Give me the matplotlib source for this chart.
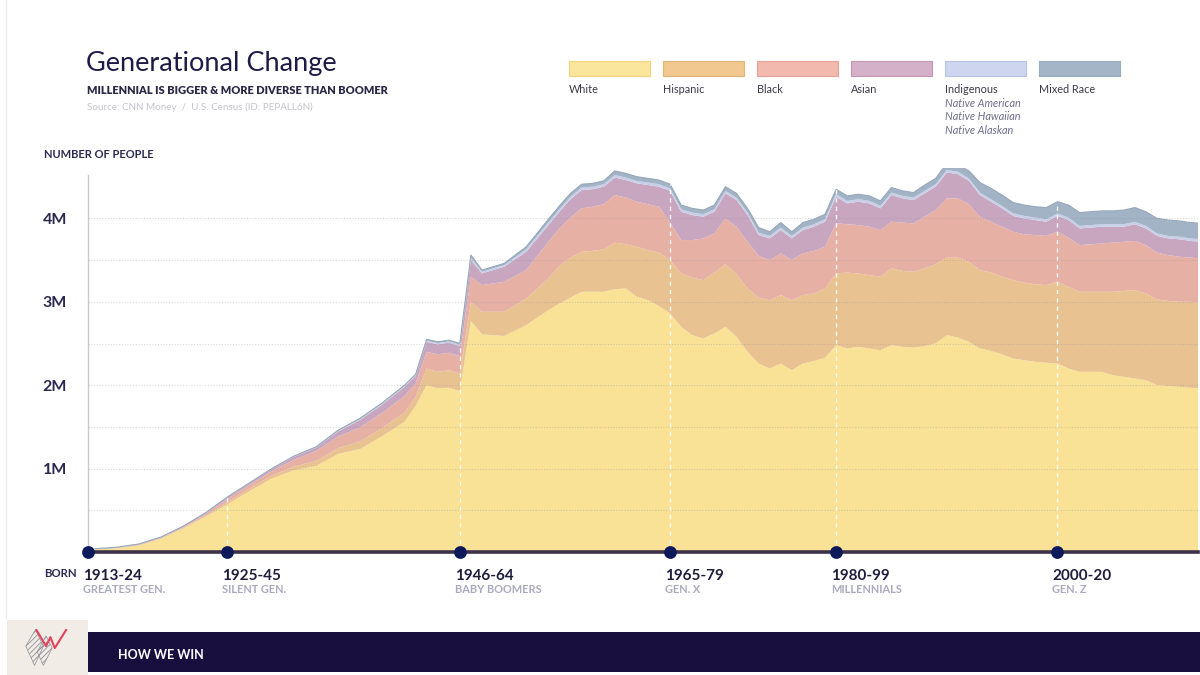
import numpy as np
import matplotlib
matplotlib.use("Agg")
import matplotlib.pyplot as plt
from matplotlib.patches import Rectangle, Polygon
from matplotlib.lines import Line2D

plt.rcParams['font.family'] = ['Lato', 'DejaVu Sans']
plt.rcParams['hatch.linewidth'] = 0.6

# ---------------- data (millions of people, by birth year) ----------------
years = [1913, 1915, 1917, 1919, 1921, 1923, 1925, 1927, 1929, 1931, 1933, 1935,
         1937, 1939, 1941, 1942, 1943, 1944, 1945, 1946, 1947, 1948, 1950, 1952,
         1954, 1955, 1956, 1957, 1958, 1959, 1960, 1961, 1962, 1963, 1964, 1965,
         1966, 1967, 1968, 1969, 1970, 1971, 1972, 1973,
         1974, 1975, 1976, 1977, 1978, 1979, 1980, 1981, 1982, 1983, 1984, 1985,
         1986, 1987, 1988, 1989, 1990, 1991, 1992, 1993,
         1994, 1995, 1996, 1997, 1998, 1999, 2000, 2001, 2002, 2003, 2004, 2005,
         2006, 2007, 2008, 2009, 2010, 2011, 2012, 2013]

white = [0.03, 0.045, 0.08, 0.16, 0.28, 0.42, 0.57, 0.73, 0.88, 0.98, 1.03, 1.175,
         1.235, 1.39, 1.56, 1.75, 2.00, 1.96, 1.97, 1.93, 2.77, 2.61, 2.59, 2.72,
         2.90, 2.98, 3.05, 3.12, 3.12, 3.12, 3.15, 3.16, 3.06, 3.02, 2.95, 2.86,
         2.70, 2.60, 2.56, 2.62, 2.70, 2.58, 2.40, 2.26,
         2.20, 2.26, 2.18, 2.26, 2.29, 2.33, 2.48, 2.44, 2.46, 2.44, 2.42, 2.48,
         2.46, 2.45, 2.47, 2.50, 2.60, 2.57, 2.52, 2.44,
         2.41, 2.37, 2.32, 2.30, 2.28, 2.27, 2.26, 2.20, 2.16, 2.16, 2.16, 2.12,
         2.10, 2.08, 2.06, 2.00, 1.99, 1.98, 1.97, 1.96]

hispanic = [0.002, 0.003, 0.004, 0.005, 0.01, 0.015, 0.025, 0.03, 0.035, 0.045, 0.06, 0.07,
            0.09, 0.10, 0.11, 0.11, 0.20, 0.20, 0.21, 0.21, 0.23, 0.27, 0.29, 0.32,
            0.38, 0.45, 0.48, 0.48, 0.49, 0.51, 0.56, 0.53, 0.60, 0.60, 0.64, 0.64,
            0.64, 0.69, 0.70, 0.73, 0.75, 0.75, 0.76, 0.79,
            0.82, 0.82, 0.84, 0.82, 0.81, 0.83, 0.86, 0.91, 0.88, 0.88, 0.88, 0.92,
            0.91, 0.91, 0.93, 0.95, 0.93, 0.96, 0.96, 0.94,
            0.94, 0.93, 0.94, 0.93, 0.93, 0.93, 0.98, 0.98, 0.96, 0.96, 0.96, 1.00,
            1.03, 1.06, 1.04, 1.03, 1.02, 1.02, 1.03, 1.03]

black = [0.003, 0.004, 0.006, 0.008, 0.012, 0.02, 0.04, 0.045, 0.055, 0.08, 0.12, 0.14,
         0.17, 0.18, 0.20, 0.16, 0.20, 0.21, 0.21, 0.21, 0.30, 0.32, 0.36, 0.34,
         0.44, 0.45, 0.48, 0.52, 0.53, 0.54, 0.57, 0.56, 0.54, 0.55, 0.55, 0.45,
         0.40, 0.45, 0.50, 0.47, 0.55, 0.57, 0.56, 0.50,
         0.48, 0.50, 0.48, 0.50, 0.51, 0.50, 0.60, 0.58, 0.58, 0.58, 0.56, 0.56,
         0.58, 0.58, 0.62, 0.65, 0.71, 0.71, 0.69, 0.64,
         0.61, 0.60, 0.58, 0.58, 0.59, 0.59, 0.60, 0.59, 0.56, 0.57, 0.58, 0.59,
         0.59, 0.59, 0.58, 0.56, 0.55, 0.54, 0.53, 0.53]

asian = [0.002, 0.003, 0.004, 0.005, 0.006, 0.01, 0.02, 0.02, 0.025, 0.035, 0.04, 0.06,
         0.09, 0.10, 0.11, 0.09, 0.12, 0.12, 0.12, 0.12, 0.20, 0.14, 0.18, 0.22,
         0.20, 0.20, 0.22, 0.22, 0.21, 0.21, 0.21, 0.21, 0.22, 0.23, 0.24, 0.38,
         0.34, 0.30, 0.26, 0.26, 0.30, 0.32, 0.32, 0.25,
         0.26, 0.28, 0.26, 0.28, 0.29, 0.30, 0.32, 0.25, 0.28, 0.28, 0.26, 0.32,
         0.29, 0.28, 0.28, 0.28, 0.31, 0.29, 0.28, 0.26,
         0.24, 0.22, 0.19, 0.19, 0.18, 0.17, 0.19, 0.21, 0.20, 0.20, 0.20, 0.19,
         0.18, 0.20, 0.20, 0.20, 0.20, 0.21, 0.20, 0.20]

indigenous = [0.001, 0.001, 0.001, 0.001, 0.001, 0.001, 0.003, 0.003, 0.003, 0.005, 0.005, 0.008,
              0.01, 0.01, 0.01, 0.01, 0.015, 0.015, 0.015, 0.015, 0.03, 0.02, 0.02, 0.03,
              0.03, 0.03, 0.03, 0.03, 0.03, 0.03, 0.03, 0.03, 0.03, 0.03, 0.03, 0.03,
              0.03, 0.03, 0.03, 0.03, 0.03, 0.03, 0.03, 0.03,
              0.03, 0.03, 0.03, 0.03, 0.03, 0.03, 0.03, 0.03, 0.03, 0.03, 0.03, 0.03,
              0.03, 0.03, 0.03, 0.03, 0.03, 0.03, 0.03, 0.03,
              0.03, 0.03, 0.03, 0.03, 0.03, 0.03, 0.03, 0.03, 0.03, 0.03, 0.03, 0.03,
              0.03, 0.03, 0.03, 0.03, 0.03, 0.03, 0.03, 0.03]

mixed = [0.001, 0.001, 0.001, 0.001, 0.001, 0.002, 0.002, 0.002, 0.002, 0.005, 0.005, 0.007,
         0.01, 0.01, 0.01, 0.01, 0.015, 0.015, 0.015, 0.015, 0.03, 0.02, 0.02, 0.03,
         0.04, 0.04, 0.04, 0.04, 0.04, 0.04, 0.05, 0.05, 0.05, 0.05, 0.05, 0.05,
         0.05, 0.05, 0.05, 0.05, 0.05, 0.05, 0.05, 0.06,
         0.05, 0.06, 0.05, 0.06, 0.06, 0.06, 0.06, 0.06, 0.06, 0.06, 0.06, 0.06,
         0.06, 0.06, 0.07, 0.07, 0.08, 0.08, 0.09, 0.12,
         0.13, 0.13, 0.13, 0.13, 0.13, 0.14, 0.14, 0.15, 0.16, 0.16, 0.16, 0.16,
         0.17, 0.17, 0.17, 0.18, 0.19, 0.19, 0.19, 0.19]

groups = ["White", "Hispanic", "Black", "Asian", "Indigenous", "Mixed Race"]
indigenous_sub = ["Native American", "Native Hawaiian", "Native Alaskan"]

gen_start = [1913, 1925, 1946, 1965, 1980, 2000]
gen_years = ["1913-24", "1925-45", "1946-64", "1965-79", "1980-99", "2000-20"]
gen_names = ["GREATEST GEN.", "SILENT GEN.", "BABY BOOMERS", "GEN. X", "MILLENNIALS", "GEN. Z"]

ytick_vals = [0.5, 1.0, 1.5, 2.0, 2.5, 3.0, 3.5, 4.0]
ytick_labels = ["", "1M", "", "2M", "", "3M", "", "4M"]

# ---------------- styling ----------------
area_colors = ['#f9e296', '#e9c291', '#e7b0a5', '#c9a6c0', '#c8d0e9', '#a1b3c5']
swatch_colors = ['#fbe69d', '#f0c890', '#f2b9ae', '#d5b0c9', '#cdd5ef', '#a5b5c8']
swatch_edges = ['#f3d47c', '#e2b47a', '#e6a39a', '#c297b4', '#b9c3e5', '#98aabe']
NAVY = '#1d1b45'
DOT = '#0c1a5c'

W, H = 1200, 675
fig = plt.figure(figsize=(12, 6.75), dpi=100)
fig.patch.set_facecolor('white')

def fx(px):
    return px / W

def fy(py):
    return 1 - py / H

X0, X1 = 1912.4, 2012.7
YMAX = 4.6
PX_PER_M = 83.4
base_px = 552
top_px = base_px - YMAX * PX_PER_M
ax = fig.add_axes([fx(88), fy(base_px), fx(1198) - fx(88), (base_px - top_px) / H])
ax.set_xlim(X0, X1)
ax.set_ylim(0, YMAX)

series = [white, hispanic, black, asian, indigenous, mixed]
ax.stackplot(years, *series, colors=area_colors, linewidth=0, zorder=1)
total = np.sum(np.array(series), axis=0)
ax.plot(years, total, color='#97a8ba', lw=0.8, zorder=1.5)

# grid
ax.set_yticks(ytick_vals)
ax.set_yticklabels(ytick_labels)
ax.set_xticks([])
ax.grid(axis='y', color='#8f8f9f', alpha=0.35, lw=0.8, linestyle=(0, (1, 1.5)), zorder=2)
ax.set_axisbelow(False)
ax.tick_params(axis='y', length=0, pad=15, labelsize=11.5, labelcolor='#2b2950')
for lab in ax.get_yticklabels():
    lab.set_fontweight('bold')
for s in ['top', 'right', 'bottom']:
    ax.spines[s].set_visible(False)
ax.spines['left'].set_color('#c9c9d2')
ax.spines['left'].set_linewidth(1)
ax.spines['left'].set_bounds(0, 4.52)
ax.set_facecolor('none')

# generation markers
for yr in gen_start[1:]:
    top = np.interp(yr, years, total)
    ax.vlines(yr, 0, top, colors='white', linestyles=(0, (3, 3)), lw=1.0, alpha=0.9, zorder=3)
ax.axhline(0, color='#3b3148', lw=2.6, zorder=4, clip_on=False)
dot_x = [X0] + gen_start[1:]
ax.scatter(dot_x, [0] * len(dot_x), s=85, color=DOT, zorder=6, clip_on=False, linewidths=0)
for x, ylab, gname in zip(dot_x, gen_years, gen_names):
    ax.annotate(ylab, xy=(x, 0), xycoords='data', xytext=(-5, -28), textcoords='offset pixels',
                ha='left', va='baseline', fontsize=11, fontweight='bold', color='#1f1d3d',
                annotation_clip=False)
    ax.annotate(gname, xy=(x, 0), xycoords='data', xytext=(-5, -41), textcoords='offset pixels',
                ha='left', va='baseline', fontsize=7.9, fontweight='bold', color='#aaa9bd',
                annotation_clip=False)

fig.text(fx(44), fy(577), "BORN", fontsize=8.2, fontweight='bold', color='#2b2950', va='baseline')
fig.text(fx(44), fy(158), "NUMBER OF PEOPLE", fontsize=8, fontweight='bold', color='#2b2950',
         va='baseline')

# titles
fig.text(fx(86), fy(70.5), "Generational Change", fontsize=19.5, color=NAVY, va='baseline')
fig.text(fx(87), fy(93.5), "MILLENNIAL IS BIGGER & MORE DIVERSE THAN BOOMER", fontsize=7.9,
         fontweight='heavy', color='#2a2846', va='baseline')
fig.text(fx(87), fy(109.5), "Source: CNN Money  /  U.S. Census (ID: PEPALL6N)", fontsize=7.1,
         color='#c3c3cb', va='baseline')

# legend
for i, g in enumerate(groups):
    x = 569 + i * 94
    fig.patches.append(Rectangle((fx(x), fy(76)), fx(81), 15 / H, transform=fig.transFigure,
                                 facecolor=swatch_colors[i], edgecolor=swatch_edges[i], lw=0.8))
    fig.text(fx(x), fy(93), g, fontsize=7.8, color='#3a3a48', va='baseline')
    if g == "Indigenous":
        for j, sub in enumerate(indigenous_sub):
            fig.text(fx(x), fy(107 + j * 13.5), sub, fontsize=7.8, style='italic',
                     color='#6e6d8c', va='baseline')

# left border line
fig.add_artist(Line2D([fx(6), fx(6)], [fy(618), 1], transform=fig.transFigure,
                      color='#ebebef', lw=1))

# footer
fig.patches.append(Rectangle((fx(7), 0), fx(81), (675 - 620) / H, transform=fig.transFigure,
                             facecolor='#f1ede6', edgecolor='none'))
fig.patches.append(Rectangle((fx(88), fy(672)), 1 - fx(88), (672 - 632) / H,
                             transform=fig.transFigure, facecolor='#180f3f', edgecolor='none'))
fig.text(fx(118), fy(655), "HOW WE WIN", fontsize=9, fontweight='bold', color='white', va='center')

# logo
lax = fig.add_axes([fx(24), fy(667), fx(44), (667 - 629) / H])
lax.set_zorder(10)
lax.set_xlim(0, 1)
lax.set_ylim(0, 1)
lax.axis('off')
for pts in ([(0.04, 0.55), (0.26, 0.98), (0.44, 0.55), (0.24, 0.04)],
            [(0.30, 0.40), (0.50, 0.82), (0.64, 0.50), (0.44, 0.04)]):
    lax.add_patch(Polygon(pts, closed=True, facecolor='none', edgecolor='#8f8f99',
                          hatch='//////', lw=0.5))
lax.plot([0.28, 0.50, 0.60], [0.98, 0.55, 0.78], color='#e0435a', lw=1.5, solid_capstyle='round')
lax.plot([0.60, 0.70, 0.96], [0.78, 0.50, 0.98], color='#e0435a', lw=1.5, solid_capstyle='round')

fig.savefig("out.png", dpi=100, facecolor='white')
